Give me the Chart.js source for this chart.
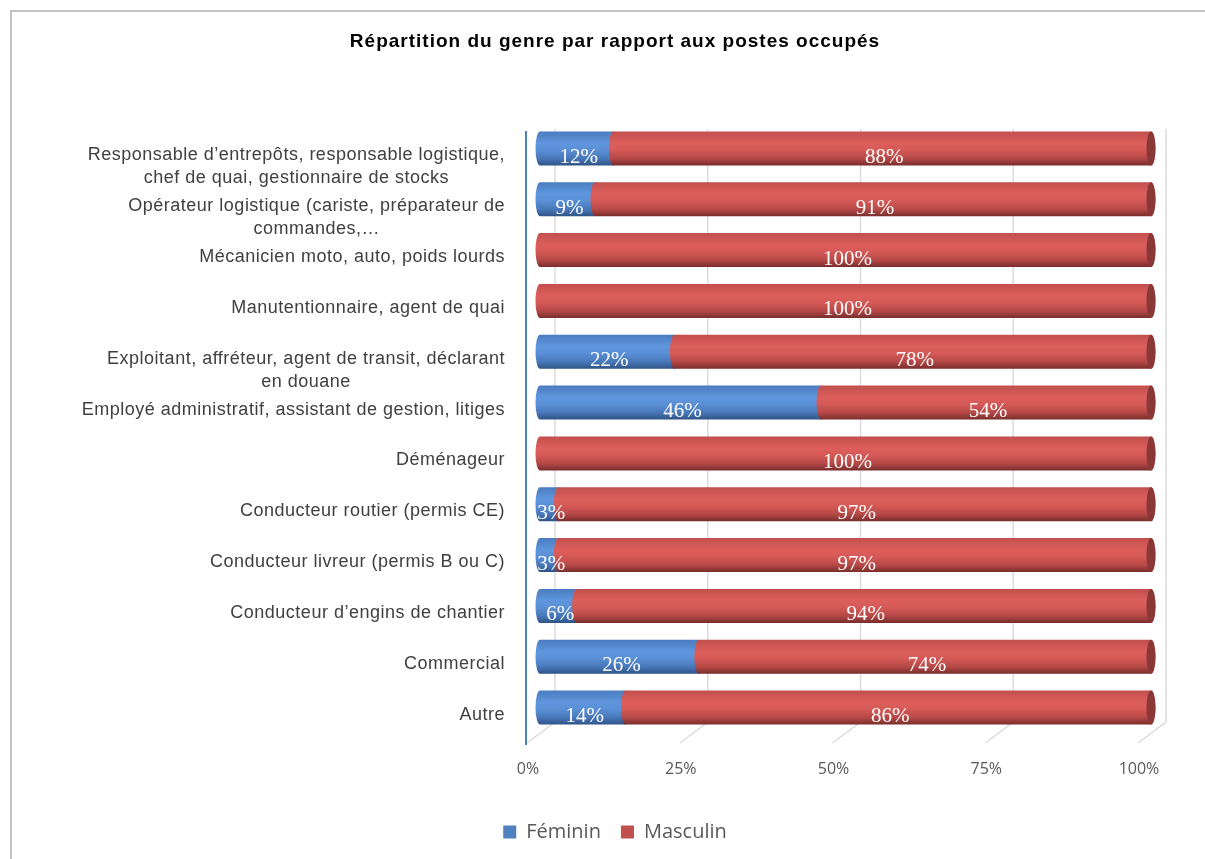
<!DOCTYPE html>
<html lang="fr">
<head>
<meta charset="utf-8">
<title>Répartition du genre par rapport aux postes occupés</title>
<script src="https://cdn.jsdelivr.net/npm/chart.js@4.4.1/dist/chart.umd.min.js"></script>
<style>
  html, body { margin: 0; padding: 0; background: #fff; overflow: hidden; }
  #wrap { position: relative; width: 1205px; height: 859px; }
  #frame { position: absolute; left: 10px; top: 10px; width: 1230px; height: 900px;
           border: 2px solid #c2c2c2; box-sizing: border-box; }
  canvas { position: absolute; left: 0; top: 0; }
</style>
</head>
<body>
<div id="wrap">
  <div id="frame"></div>
  <canvas id="chart" width="1205" height="859"></canvas>
</div>
<script>
// postes (du haut vers le bas)
const postes = [
  ['Responsable d’entrepôts, responsable logistique,', 'chef de quai, gestionnaire de stocks'],
  ['Opérateur logistique (cariste, préparateur de', 'commandes,…'],
  ['Mécanicien moto, auto, poids lourds'],
  ['Manutentionnaire, agent de quai'],
  ['Exploitant, affréteur, agent de transit, déclarant', 'en douane'],
  ['Employé administratif, assistant de gestion, litiges'],
  ['Déménageur'],
  ['Conducteur routier (permis CE)'],
  ['Conducteur livreur (permis B ou C)'],
  ['Conducteur d’engins de chantier'],
  ['Commercial'],
  ['Autre']
];
const feminin  = [12, 9, 0, 0, 22, 46, 0, 3, 3, 6, 26, 14];
const masculin = [88, 91, 100, 100, 78, 54, 100, 97, 97, 94, 74, 86];
const graduations = [0, 25, 50, 75, 100];
const titre = 'Répartition du genre par rapport aux postes occupés';

const BLEU = '#4f81bd';
const ROUGE = '#c0504d';

// dégradés "cylindre" (haut -> bas)
const teintes = {
  0: ['#4a7cc0', '#5f96dd', '#5a8fd6', '#4777b8', '#2f5386'],
  1: ['#c24f4d', '#dc5f5c', '#d55956', '#b44846', '#782d2c']
};
const couvercle = { 0: '#35598c', 1: '#8a3837' };

function degrade(ctx, top, bottom, stops) {
  const g = ctx.createLinearGradient(0, top, 0, bottom);
  const pos = [0, 0.35, 0.55, 0.8, 1];
  stops.forEach((c, k) => g.addColorStop(pos[k], c));
  return g;
}

// fond 3D : murs quadrillés + axe vertical
const fond3d = {
  id: 'fond3d',
  beforeDatasetsDraw(chart) {
    const { ctx, chartArea: a, scales: { x } } = chart;
    ctx.save();
    ctx.strokeStyle = '#dcdcdc';
    ctx.lineWidth = 1.5;
    graduations.forEach(v => {
      const px = x.getPixelForValue(v);
      ctx.beginPath();
      ctx.moveTo(px + 15, a.top + 6);
      ctx.lineTo(px + 15, a.bottom - 11);
      ctx.lineTo(px - 13, a.bottom + 10);
      ctx.stroke();
    });
    ctx.strokeStyle = BLEU;
    ctx.lineWidth = 2;
    ctx.beginPath();
    ctx.moveTo(x.getPixelForValue(0) - 14, a.top + 8);
    ctx.lineTo(x.getPixelForValue(0) - 14, a.bottom + 12);
    ctx.stroke();
    ctx.restore();
  }
};

// barres en cylindres horizontaux
const cylindres = {
  id: 'cylindres',
  beforeDatasetsDraw(chart) {
    const ctx = chart.ctx;
    const rx = 4.5;
    ctx.save();
    chart.data.labels.forEach((_, i) => {
      let dernier = null;
      chart.data.datasets.forEach((ds, d) => {
        if (!ds.data[i]) return;
        const b = chart.getDatasetMeta(d).data[i].getProps(['x', 'y', 'base', 'height'], true);
        const x0 = Math.min(b.base, b.x), x1 = Math.max(b.base, b.x);
        const top = b.y - b.height / 2, bot = b.y + b.height / 2, ry = b.height / 2;
        ctx.beginPath();
        ctx.moveTo(x0, top);
        ctx.lineTo(x1, top);
        ctx.ellipse(x1, b.y, rx, ry, 0, -Math.PI / 2, Math.PI / 2);
        ctx.lineTo(x0, bot);
        ctx.ellipse(x0, b.y, rx, ry, 0, Math.PI / 2, Math.PI * 1.5);
        ctx.closePath();
        ctx.fillStyle = degrade(ctx, top, bot, teintes[d]);
        ctx.fill();
        dernier = { x1, y: b.y, ry, d };
      });
      if (dernier) {
        ctx.beginPath();
        ctx.ellipse(dernier.x1, dernier.y, rx, dernier.ry, 0, 0, Math.PI * 2);
        ctx.fillStyle = couvercle[dernier.d];
        ctx.fill();
      }
    });
    ctx.restore();
  },
  beforeDatasetDraw() {
    return false;
  }
};

// titre, étiquettes des postes et valeurs dans les barres
const textes = {
  id: 'textes',
  afterDatasetsDraw(chart) {
    const { ctx, chartArea: a, scales: { y } } = chart;
    ctx.save();
    ctx.textAlign = 'center';
    ctx.textBaseline = 'middle';

    ctx.font = 'bold 19px "Liberation Sans", Arial, sans-serif';
    ctx.letterSpacing = '1px';
    ctx.fillStyle = '#000000';
    ctx.fillText(titre, 615, 42);

    ctx.font = '18px "Liberation Sans", Arial, sans-serif';
    ctx.letterSpacing = '0.5px';
    ctx.fillStyle = '#404040';
    const droite = a.left - 35;
    postes.forEach((lignes, i) => {
      const py = y.getPixelForValue(i) + 7;
      const larg = Math.max(...lignes.map(l => ctx.measureText(l).width));
      lignes.forEach((l, k) => ctx.fillText(l, droite - larg / 2, py + k * 23));
    });

    ctx.letterSpacing = '0px';
    ctx.font = '21px "Liberation Serif", "Times New Roman", serif';
    ctx.fillStyle = '#ffffff';
    chart.data.datasets.forEach((ds, d) => {
      chart.getDatasetMeta(d).data.forEach((bar, i) => {
        const v = ds.data[i];
        if (!v) return;
        const p = bar.getProps(['x', 'y', 'base'], true);
        ctx.fillText(v + '%', (p.x + p.base) / 2 + 2, p.y + 9);
      });
    });
    ctx.restore();
  }
};

new Chart(document.getElementById('chart'), {
  type: 'bar',
  data: {
    labels: postes,
    datasets: [
      { label: 'Féminin', data: feminin, backgroundColor: BLEU },
      { label: 'Masculin', data: masculin, backgroundColor: ROUGE }
    ]
  },
  options: {
    indexAxis: 'y',
    responsive: false,
    animation: false,
    categoryPercentage: 1,
    barPercentage: 0.67,
    layout: { padding: { left: 79, right: 54, top: 123, bottom: 7 } },
    scales: {
      x: {
        stacked: true,
        min: 0,
        max: 100,
        afterBuildTicks: s => { s.ticks = graduations.map(v => ({ value: v })); },
        afterFit: s => { s.height = 69; },
        grid: { display: false, drawTicks: false },
        border: { display: false },
        ticks: {
          padding: 27,
          labelOffset: -12,
          color: '#595959',
          font: { family: '"Open Sans", sans-serif', size: 16 },
          callback: v => v + '%'
        }
      },
      y: {
        stacked: true,
        afterFit: s => { s.width = 461; },
        grid: { display: false, drawTicks: false },
        border: { display: false },
        ticks: { display: false }
      }
    },
    plugins: {
      title: { display: false },
      legend: {
        position: 'bottom',
        labels: {
          boxWidth: 13,
          boxHeight: 13,
          padding: 20,
          color: '#595959',
          font: { family: '"Open Sans", sans-serif', size: 20 }
        }
      },
      tooltip: { enabled: false }
    }
  },
  plugins: [fond3d, cylindres, textes]
});
</script>
</body>
</html>
